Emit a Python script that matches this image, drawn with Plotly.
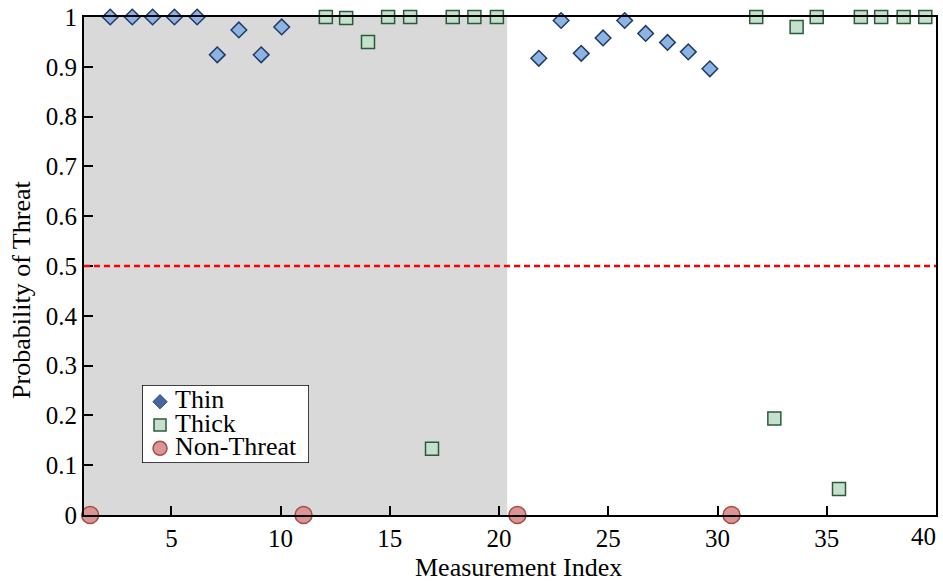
import plotly.graph_objects as go

# ---- data ----
thin_x = [2.2, 3.21, 4.14, 5.14, 6.18, 7.1, 8.09, 9.11, 10.05,
          21.82, 22.84, 23.76, 24.76, 25.75, 26.71, 27.71, 28.66, 29.65]
thin_y = [1.0, 1.0, 1.0, 1.0, 1.0, 0.924, 0.974, 0.924, 0.980,
          0.917, 0.993, 0.927, 0.958, 0.993, 0.967, 0.949, 0.930, 0.896]

thick_x = [12.07, 13.0, 14.0, 14.92, 15.93, 16.93, 17.88, 18.87, 19.9,
           31.77, 32.6, 33.62, 34.54, 35.56, 36.56, 37.49, 38.52, 39.51]
thick_y = [1.0, 0.998, 0.95, 1.0, 1.0, 0.133, 1.0, 1.0, 1.0,
           1.0, 0.194, 0.980, 1.0, 0.052, 1.0, 1.0, 1.0, 1.0]

nonthreat_x = [1.28, 11.05, 20.84, 30.64]
nonthreat_y = [0.0, 0.0, 0.0, 0.0]

shade_range = [1.0, 20.37]
threshold = 0.5

x_ticks = [5, 10, 15, 20, 25, 30, 35, 40]
x_ticktext = ["5", "10", "15", "20", "25", "30", "35", "40"]
y_ticks = [0, 0.1, 0.2, 0.3, 0.4, 0.5, 0.6, 0.7, 0.8, 0.9, 1]
y_ticktext = ["0", "0.1", "0.2", "0.3", "0.4", "0.5", "0.6", "0.7", "0.8", "0.9", "1"]

legend_labels = ["Thin", "Thick", "Non-Threat"]

FONT = "Liberation Serif"
TICKSIZE = 25
TITLESIZE = 26

THIN_STYLE = dict(symbol="diamond", size=12, color="#8db3e2",
                  line=dict(color="#1f3a66", width=1.5))
THICK_STYLE = dict(symbol="square", size=13, color="#c5e0cb",
                   line=dict(color="#2b5a3b", width=1.5))
NT_STYLE = dict(symbol="circle", size=17, color="#d99694",
                line=dict(color="#a84a45", width=1.5))

fig = go.Figure()

fig.add_trace(go.Scatter(x=thin_x, y=thin_y, mode="markers", name="Thin",
                         showlegend=False, cliponaxis=False, marker=THIN_STYLE))
fig.add_trace(go.Scatter(x=thick_x, y=thick_y, mode="markers", name="Thick",
                         showlegend=False, cliponaxis=False, marker=THICK_STYLE))
fig.add_trace(go.Scatter(x=nonthreat_x, y=nonthreat_y, mode="markers", name="Non-Threat",
                         showlegend=False, cliponaxis=False, marker=NT_STYLE))

# ---- legend drawn in an inset axis (box coordinates 142..309 x 385..463) ----
LEG_X = [0.0681, 0.2641]      # paper domain of legend box
LEG_Y = [0.1044, 0.2610]
leg_rows = [401.7, 425.0, 448.3]
leg_marker_x = 160
leg_text_x = 175

leg_styles = [
    dict(symbol="diamond", size=11, color="#4a64a0", line=dict(color="#2f4a80", width=1)),
    dict(symbol="square", size=12, color="#c5e0cb", line=dict(color="#2b5a3b", width=1.5)),
    dict(symbol="circle", size=14, color="#d99694", line=dict(color="#a84a45", width=1.5)),
]

fig.add_shape(type="rect", xref="x", yref="y",
              x0=shade_range[0], x1=shade_range[1], y0=0, y1=1,
              fillcolor="#d9d9d9", line=dict(width=0), layer="below")
fig.add_shape(type="line", xref="x", yref="y",
              x0=1, x1=40, y0=threshold, y1=threshold,
              line=dict(color="#ff0000", width=2.5, dash="6px,4px"))

fig.add_shape(type="rect", xref="x2", yref="y2", x0=142, x1=309, y0=385, y1=463,
              fillcolor="white", line=dict(color="black", width=1.5), layer="below")
for yy, st in zip(leg_rows, leg_styles):
    fig.add_trace(go.Scatter(x=[leg_marker_x], y=[yy], mode="markers", marker=st,
                             xaxis="x2", yaxis="y2", showlegend=False,
                             hoverinfo="skip", cliponaxis=False))
fig.add_trace(go.Scatter(x=[leg_text_x] * len(legend_labels), y=leg_rows,
                         mode="text", text=legend_labels, textposition="middle right",
                         textfont=dict(family=FONT, size=TITLESIZE, color="black"),
                         xaxis="x2", yaxis="y2", showlegend=False,
                         hoverinfo="skip", cliponaxis=False))

# last tick label drawn right-aligned at its tick so it stays inside the page
fig.add_annotation(text=x_ticktext[-1], xref="x", yref="paper",
                   x=x_ticks[-1], y=0, xanchor="right", yanchor="top",
                   xshift=2, yshift=-6, showarrow=False,
                   font=dict(family=FONT, size=TICKSIZE, color="black"))

fig.add_annotation(text="Measurement Index", xref="paper", yref="paper",
                   x=0.51, y=-0.106, xanchor="center", yanchor="middle",
                   showarrow=False, font=dict(family=FONT, size=TITLESIZE, color="black"))
fig.add_annotation(text="Probability of Threat", xref="paper", yref="paper",
                   x=-0.0728, y=0.452, xanchor="center", yanchor="middle",
                   textangle=-90, showarrow=False,
                   font=dict(family=FONT, size=TITLESIZE, color="black"))

fig.update_layout(
    width=943, height=582,
    margin=dict(l=84, r=7, t=17, b=67, autoexpand=False),
    paper_bgcolor="white", plot_bgcolor="white",
    font=dict(family=FONT, size=TICKSIZE, color="black"),
    showlegend=False,
    xaxis=dict(range=[1, 40], tickvals=x_ticks,
               ticktext=x_ticktext[:-1] + [""],
               ticks="inside", ticklen=9,
               tickwidth=2, tickcolor="black", showline=True, linewidth=2,
               linecolor="black", mirror=True, showgrid=False, zeroline=False,
               automargin=False,
               tickfont=dict(family=FONT, size=TICKSIZE, color="black")),
    yaxis=dict(range=[0, 1], tickvals=y_ticks, ticktext=y_ticktext,
               ticks="inside", ticklen=9, tickwidth=2, tickcolor="black",
               showline=True, linewidth=2, linecolor="black", mirror=True,
               showgrid=False, zeroline=False, automargin=False,
               tickfont=dict(family=FONT, size=TICKSIZE, color="black")),
    xaxis2=dict(domain=LEG_X, range=[142, 309], visible=False, anchor="y2",
                fixedrange=True),
    yaxis2=dict(domain=LEG_Y, range=[463, 385], visible=False, anchor="x2",
                fixedrange=True),
)

fig.write_html("out.html")
